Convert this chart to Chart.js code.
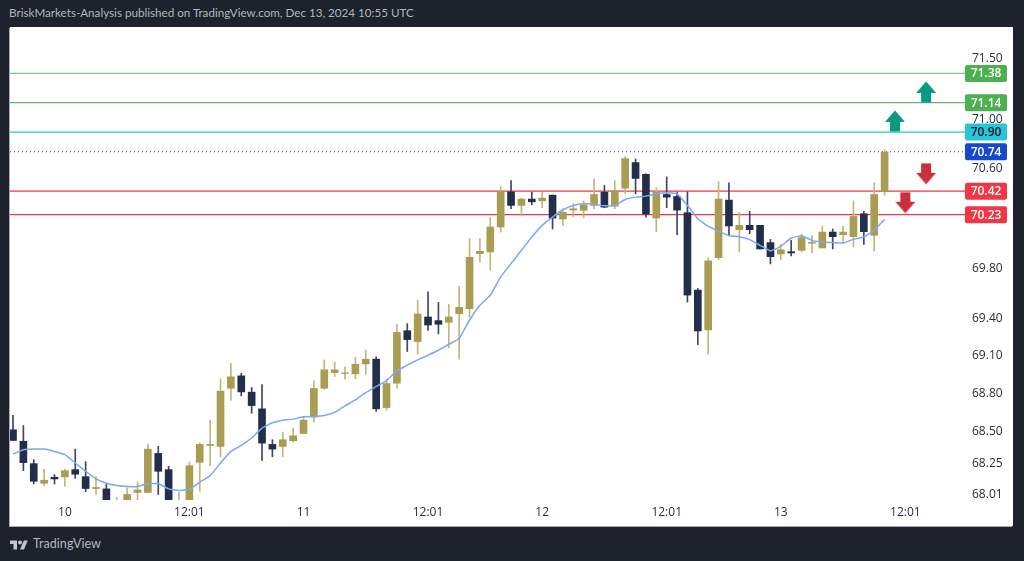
<!DOCTYPE html>
<html>
<head>
<meta charset="utf-8">
<script src="https://cdn.jsdelivr.net/npm/chart.js@4/dist/chart.umd.min.js"></script>
<style>
html,body{margin:0;padding:0;width:1024px;height:561px;overflow:hidden;background:#1e222d;}
#head{position:absolute;left:9px;top:6px;color:#b2b5be;font:11.65px Lato,sans-serif;white-space:nowrap;}
#panel{position:absolute;left:10px;top:27px;width:1003px;height:499px;background:#fff;box-shadow:-1px 1px 0 #a9acb5;}
#foot{position:absolute;left:33px;top:536px;color:#b2b5be;font:12.6px Lato,sans-serif;white-space:nowrap;}
#logo{position:absolute;left:10px;top:538px;width:18px;height:14px;}
</style>
</head>
<body>
<div id="head">BriskMarkets-Analysis published on TradingView.com, Dec 13, 2024 10:55 UTC</div>
<div id="panel"><canvas id="c" width="1003" height="499"></canvas></div>
<svg id="logo" viewBox="0 0 36 26"><path fill="#c3c6cd" d="M14 22H7V11H0V4h14v18zM28 22h-8l7.5-18h8L28 22z"/><circle fill="#c3c6cd" cx="20" cy="8" r="4"/></svg>
<div id="foot">TradingView</div>
<script>
const opens  = [68.515,68.424,68.249,68.095,68.142,68.145,68.202,68.147,68.054,68.051,67.90,67.93,68.023,68.023,68.329,68.202,67.88,67.92,68.259,68.392,68.384,68.843,68.941,68.812,68.68,68.40,68.384,68.429,68.486,68.615,68.843,68.967,68.96,68.957,69.036,69.073,68.69,68.883,69.30,69.213,69.409,69.38,69.367,69.435,69.475,69.916,69.93,70.131,70.415,70.305,70.356,70.342,70.388,70.195,70.267,70.265,70.305,70.412,70.299,70.445,70.652,70.557,70.203,70.393,70.377,70.246,69.624,69.306,69.884,70.348,70.109,70.144,70.144,70.005,69.914,69.932,69.943,70.0,69.962,70.09,70.069,70.053,70.238,70.064,70.417];
const highs  = [68.628,68.549,68.28,68.207,68.163,68.207,68.363,68.264,68.145,68.093,67.984,68.059,68.106,68.403,68.384,68.228,68.025,68.262,68.413,68.589,68.917,69.041,68.962,68.849,68.872,68.437,68.497,68.528,68.615,68.901,69.068,69.05,69.012,69.089,69.147,69.092,68.915,69.351,69.356,69.544,69.61,69.525,69.51,69.656,70.037,70.037,70.208,70.458,70.506,70.364,70.412,70.412,70.388,70.278,70.318,70.34,70.52,70.466,70.506,70.70,70.681,70.56,70.447,70.536,70.412,70.415,69.637,69.884,70.496,70.488,70.249,70.257,70.144,70.031,69.991,70.023,70.074,70.061,70.139,70.115,70.139,70.342,70.257,70.488,70.756];
const lows   = [68.431,68.194,68.09,68.077,68.09,68.072,68.134,68.03,68.007,67.9,67.88,67.9,67.96,68.02,68.007,67.9,67.85,67.9,68.033,68.233,68.301,68.746,68.783,68.646,68.275,68.303,68.303,68.418,68.484,68.575,68.835,68.936,68.915,68.917,68.952,68.66,68.67,68.843,69.134,69.113,69.303,69.274,69.165,69.073,69.412,69.85,69.783,70.09,70.278,70.219,70.31,70.286,70.115,70.144,70.211,70.203,70.278,70.286,70.278,70.399,70.399,70.211,70.093,70.286,70.069,69.528,69.189,69.113,69.869,70.064,69.93,70.077,69.954,69.834,69.869,69.898,69.93,69.922,69.962,69.954,70.002,69.97,69.991,69.938,70.388];
const closes = [68.431,68.257,68.111,68.119,68.129,68.194,68.166,68.054,68.062,67.93,67.94,68.007,68.043,68.363,68.189,67.93,67.95,68.233,68.40,68.40,68.82,68.933,68.814,68.706,68.41,68.363,68.437,68.468,68.591,68.841,68.989,68.989,68.965,69.033,69.073,68.68,68.88,69.287,69.229,69.433,69.345,69.351,69.409,69.486,69.887,69.935,70.131,70.415,70.305,70.356,70.334,70.364,70.203,70.249,70.278,70.31,70.393,70.291,70.426,70.684,70.523,70.235,70.412,70.372,70.267,69.584,69.298,69.858,70.356,70.139,70.144,70.109,69.954,69.892,69.948,69.922,70.045,70.007,70.09,70.053,70.09,70.216,70.093,70.393,70.737];
const avgLine = [68.324,68.358,68.363,68.363,68.345,68.319,68.254,68.189,68.129,68.095,68.077,68.069,68.069,68.093,68.093,68.051,68.038,68.049,68.103,68.155,68.254,68.345,68.392,68.45,68.528,68.57,68.591,68.599,68.617,68.62,68.628,68.652,68.704,68.751,68.809,68.857,68.904,68.981,69.026,69.068,69.105,69.144,69.192,69.237,69.385,69.502,69.583,69.73,69.837,69.943,70.05,70.144,70.211,70.27,70.305,70.318,70.315,70.302,70.305,70.353,70.372,70.38,70.399,70.407,70.399,70.305,70.198,70.136,70.098,70.061,70.053,70.029,69.983,69.938,69.975,70.042,70.061,70.023,70.01,70.005,70.002,70.031,70.05,70.104,70.192];

const yTickValues = [71.5,71.0,70.6,69.8,69.4,69.1,68.8,68.5,68.25,68.01];
const xTickIndices = [5,17,28,40,51,63,74,86];
const xTickLabels = ["10","12:01","11","12:01","12","12:01","13","12:01"];

const levelValues = [71.38,71.14,70.90,70.74,70.42,70.23];
const levelColors = ["#81c784","#6fb073","#26c6da","#1848cc","#f23645","#f23645"];
const badgeColors = ["#4caf50","#4caf50","#26c6da","#1848cc","#f23645","#f23645"];
const badgeText   = ["#ffffff","#ffffff","#131722","#ffffff","#ffffff","#ffffff"];
const levelDashes = [[],[],[],[1,3],[],[]];

const upArrowX = [88,85], upArrowY = [71.228,70.991];
const downArrowX = [88,86], downArrowY = [70.561,70.327];

const GOLD = "#a99c53", DARK = "#222e4a", GOLD_W = "#c2b67c", DARK_W = "#3c4763";
const X_MIN = -0.289, X_MAX = 91.75, Y_MIN = 67.9643, Y_MAX = 71.7616;

function arrowIcon(color, up){
  const c = document.createElement("canvas"); c.width = 22; c.height = 22;
  const g = c.getContext("2d"); g.fillStyle = color; g.beginPath();
  const pts = [[11,0.5],[21,12],[16,12],[16,21.5],[6,21.5],[6,12],[1,12]];
  pts.forEach(([x,y],i)=>{ const yy = up ? y : 22-y; i ? g.lineTo(x,yy) : g.moveTo(x,yy); });
  g.closePath(); g.fill(); return c;
}
const isUp = i => closes[i] >= opens[i];
const idx = opens.map((_,i)=>i);

const levelSets = levelValues.map((v,i)=>({
  type:"line", data:[{x:X_MIN,y:v},{x:X_MAX,y:v}], borderColor:levelColors[i], borderWidth:1.2,
  borderDash:levelDashes[i], pointRadius:0, order:5
}));

const badgePlugin = {
  id:"badges",
  afterDraw(chart){
    const g = chart.ctx, ys = chart.scales.y, r = chart.chartArea.right;
    g.save();
    levelValues.forEach((v,i)=>{
      const y = ys.getPixelForValue(v);
      g.fillStyle = badgeColors[i];
      g.beginPath(); g.roundRect(r, y-8.5, 42, 17, 2); g.fill();
      g.fillStyle = badgeText[i];
      g.font = '600 12px "Open Sans",sans-serif';
      g.textAlign = "center"; g.textBaseline = "middle";
      g.fillText(v.toFixed(2), r+21, y+0.5);
    });
    g.restore();
  }
};

new Chart(document.getElementById("c"),{
  data:{datasets:[
    ...levelSets,
    {type:"bar", grouped:false, barThickness:1, order:3,
     data:idx.map(i=>({x:i,y:[lows[i],highs[i]]})),
     backgroundColor:idx.map(i=>isUp(i)?GOLD_W:DARK_W)},
    {type:"bar", grouped:false, barThickness:7, order:2,
     data:idx.map(i=>({x:i,y:[opens[i],closes[i]]})),
     backgroundColor:idx.map(i=>isUp(i)?GOLD:DARK)},
    {type:"line", data:idx.map(i=>({x:i,y:avgLine[i]})), borderColor:"#7ba7f7", borderWidth:1.5, pointRadius:0, tension:0.1, order:1},
    {type:"scatter", data:upArrowX.map((x,i)=>({x,y:upArrowY[i]})), pointStyle:arrowIcon("#089981",true), pointRadius:11, order:0},
    {type:"scatter", data:downArrowX.map((x,i)=>({x,y:downArrowY[i]})), pointStyle:arrowIcon("#c9303e",false), pointRadius:11, order:0}
  ]},
  options:{
    responsive:false, animation:false, events:[],
    layout:{padding:0,autoPadding:false},
    plugins:{legend:{display:false},tooltip:{enabled:false},title:{display:false}},
    scales:{
      x:{type:"linear",min:X_MIN,max:X_MAX,offset:false,
         grid:{display:false,tickLength:0},border:{display:false},
         afterBuildTicks:s=>{s.ticks=xTickIndices.map(v=>({value:v}));},
         afterFit:s=>{s.height=26;s.paddingLeft=0;s.paddingRight=0;},
         ticks:{autoSkip:false,maxRotation:0,padding:5,color:"#2a2e39",font:{family:'"Open Sans",sans-serif',size:12},
                callback:v=>xTickLabels[xTickIndices.indexOf(v)]}},
      y:{type:"logarithmic",position:"right",min:Y_MIN,max:Y_MAX,
         grid:{display:false,tickLength:0},border:{display:false},
         afterBuildTicks:s=>{s.ticks=yTickValues.map(v=>({value:v}));},
         afterFit:s=>{s.width=48;s.paddingTop=0;s.paddingBottom=0;},
         ticks:{autoSkip:false,padding:7,color:"#2a2e39",font:{family:'"Open Sans",sans-serif',size:12},
                callback:v=>v.toFixed(2)}}
    }
  },
  plugins:[badgePlugin]
});
</script>
</body>
</html>
